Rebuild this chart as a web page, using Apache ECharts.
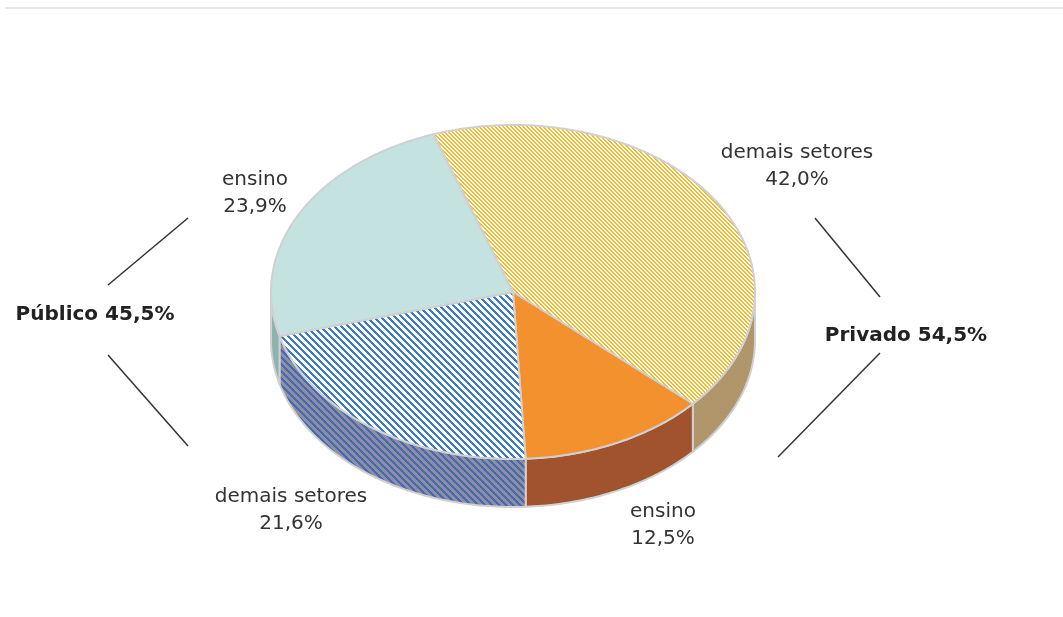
<!DOCTYPE html>
<html>
<head>
<meta charset="utf-8">
<script src="https://cdn.jsdelivr.net/npm/echarts@6/dist/echarts.min.js"></script>
<style>
  html, body { margin: 0; padding: 0; background: #ffffff; }
  #chart { width: 1063px; height: 617px; }
</style>
</head>
<body>
<div id="chart"></div>
<script>
// Distribution by sector (share of total, %)
const sectors    = ['Privado', 'Privado', 'Público', 'Público'];
const categories = ['demais setores', 'ensino', 'demais setores', 'ensino'];
const shares     = [42.0, 12.5, 21.6, 23.9];

const fmt = v => v.toFixed(1).replace('.', ',') + '%';

// Striped tile used as a hatch fill
function stripes(period, width, fg, bg) {
  const c = document.createElement('canvas');
  c.width = period; c.height = period;
  const ctx = c.getContext('2d');
  ctx.fillStyle = bg; ctx.fillRect(0, 0, period, period);
  ctx.fillStyle = fg;
  for (let y = 0; y < period; y++) {
    for (let x = 0; x < period; x++) {
      if (((x - y) % period + period) % period < width) ctx.fillRect(x, y, 1, 1);
    }
  }
  return { image: c, repeat: 'repeat' };
}

const topFills = [
  stripes(4, 2, '#F7B925', '#FFFFFF'),
  '#F3912E',
  stripes(7, 3, '#3B7BC8', '#FFFFFF'),
  '#C3E2E0'
];
const sideFills = [
  stripes(4, 2, '#C4913A', '#9B9B9B'),
  '#A0532D',
  stripes(7, 3, '#4767BD', '#8E9197'),
  '#8DB3AF'
];

// 3D pie geometry
const pie = { cx: 513, cy: 292, rx: 242, ry: 167, depth: 48, start: -109.2 };

function renderItem(params, api) {
  const i = params.dataIndex;
  const total = shares.reduce((a, b) => a + b, 0);
  let before = 0;
  for (let k = 0; k < i; k++) before += shares[k];
  const a0 = pie.start + before / total * 360;
  const a1 = a0 + api.value(0) / total * 360;

  const pt = (deg, dy) => {
    const r = deg * Math.PI / 180;
    return [pie.cx + pie.rx * Math.cos(r), pie.cy + pie.ry * Math.sin(r) + dy];
  };
  const arc = (s, e, dy) => {
    const n = Math.max(2, Math.ceil(Math.abs(e - s)));
    const out = [];
    for (let k = 0; k <= n; k++) out.push(pt(s + (e - s) * k / n, dy));
    return out;
  };

  const children = [];
  // visible wall: front half of the disc
  const s = Math.max(a0, 0), e = Math.min(a1, 180);
  if (e > s) {
    children.push({
      type: 'polygon',
      shape: { points: arc(s, e, 0).concat(arc(e, s, pie.depth)) },
      style: { fill: sideFills[i], stroke: '#D0D0D0', lineWidth: 2, lineJoin: 'round' }
    });
  }
  children.push({
    type: 'polygon',
    shape: { points: [[pie.cx, pie.cy]].concat(arc(a0, a1, 0)) },
    style: { fill: topFills[i], stroke: '#D0D0D0', lineWidth: 2, lineJoin: 'round' }
  });
  return { type: 'group', children };
}

const sum = name => shares.reduce((acc, v, k) => acc + (sectors[k] === name ? v : 0), 0);

const labelFont = { fontFamily: 'DejaVu Sans', fontSize: 20, fill: '#333333' };
const sliceLabelPos = [[797, 166], [663, 525], [291, 510], [255, 193]];

const graphics = [
  { type: 'line', shape: { x1: 5, y1: 8, x2: 1063, y2: 8 }, style: { stroke: '#E6E6E6', lineWidth: 2 } }
];
sliceLabelPos.forEach((p, k) => {
  graphics.push({
    type: 'text', x: p[0], y: p[1],
    style: Object.assign({
      text: categories[k] + '\n' + fmt(shares[k]),
      align: 'center', verticalAlign: 'middle', lineHeight: 27
    }, labelFont)
  });
});
graphics.push(
  { type: 'text', x: 95, y: 315,
    style: { text: 'Público ' + fmt(sum('Público')), align: 'center', verticalAlign: 'middle',
             fontFamily: 'DejaVu Sans', fontSize: 20, fontWeight: 'bold', fill: '#222222' } },
  { type: 'text', x: 906, y: 336,
    style: { text: 'Privado ' + fmt(sum('Privado')), align: 'center', verticalAlign: 'middle',
             fontFamily: 'DejaVu Sans', fontSize: 20, fontWeight: 'bold', fill: '#222222' } }
);
[[188, 218, 108, 285], [108, 355, 188, 446], [815, 218, 880, 297], [880, 353, 778, 457]].forEach(l => {
  graphics.push({ type: 'line', shape: { x1: l[0], y1: l[1], x2: l[2], y2: l[3] },
                  style: { stroke: '#333333', lineWidth: 1.5 } });
});

const chart = echarts.init(document.getElementById('chart'), null, { renderer: 'canvas' });
chart.setOption({
  animation: false,
  backgroundColor: '#FFFFFF',
  series: [{
    type: 'custom',
    coordinateSystem: 'none',
    renderItem: renderItem,
    data: shares.map(v => [v])
  }],
  graphic: graphics
});
</script>
</body>
</html>
